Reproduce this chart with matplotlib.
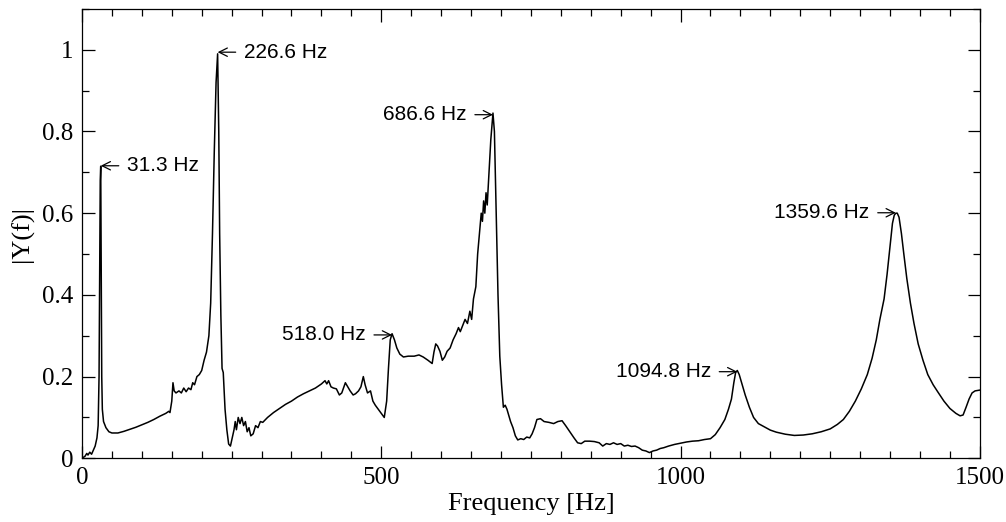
import matplotlib
matplotlib.use('Agg')
import matplotlib.pyplot as plt
from matplotlib.ticker import MultipleLocator, FormatStrFormatter

# spectrum (frequency in Hz, normalised magnitude)
freq = [0, 5, 8, 10, 13, 16, 19, 22, 25, 27, 28.5, 29.5, 30.5, 31.3, 32.0, 33, 34, 36, 40, 45,
        50, 60, 70, 80, 90, 100, 110, 120, 130, 140, 145, 147, 150, 152, 154, 157, 162, 166, 170, 174,
        178, 182, 185, 188, 192, 196, 200, 204, 208, 212, 215, 218, 221, 224, 226.6, 228.5, 230, 232, 234, 236,
        237, 239, 242, 245, 248, 251, 254, 256, 258, 261, 264, 267, 270, 273, 276, 279, 282, 286, 290, 294,
        298, 302, 310, 320, 330, 340, 350, 360, 370, 380, 390, 400, 406, 409, 412, 416, 420, 425, 430, 434,
        440, 444, 448, 453, 457, 462, 466, 470, 473, 477, 482, 486, 490, 495, 500, 505, 509, 512, 515, 518,
        522, 526, 531, 537, 545, 555, 563, 570, 578, 585, 588, 591, 594, 598, 602, 606, 610, 615, 620, 625,
        629, 632, 636, 640, 644, 648, 651, 654, 658, 661, 664, 667, 669, 671, 673, 675, 677, 680, 683, 686.6,
        689, 692, 695, 698, 701, 704, 707, 710, 713, 716, 720, 724, 728, 733, 738, 743, 748, 752, 756, 760,
        766, 772, 780, 788, 795, 802, 808, 815, 822, 828, 834, 840, 848, 856, 864, 870, 876, 882, 888, 894,
        900, 906, 912, 918, 924, 930, 936, 942, 948, 954, 960, 966, 972, 980, 990, 1000, 1010, 1020, 1030, 1040,
        1050, 1058, 1066, 1074, 1080, 1085, 1089, 1092, 1094.8, 1098, 1102, 1108, 1115, 1122, 1130, 1140, 1150, 1160, 1175, 1190,
        1205, 1220, 1235, 1250, 1262, 1272, 1282, 1292, 1302, 1312, 1320, 1327, 1333, 1340, 1345, 1350, 1354, 1357, 1359.6, 1362,
        1365, 1369, 1373, 1378, 1384, 1390, 1397, 1405, 1413, 1422, 1430, 1440, 1450, 1460, 1467, 1472, 1477, 1482, 1487, 1492,
        1500]
amp = [0.0, 0.005, 0.012, 0.008, 0.015, 0.01, 0.02, 0.03, 0.05, 0.08, 0.2, 0.45, 0.68, 0.715, 0.5, 0.2, 0.12, 0.09, 0.075, 0.065,
       0.062, 0.062, 0.066, 0.071, 0.076, 0.082, 0.088, 0.095, 0.103, 0.11, 0.115, 0.112, 0.14, 0.185, 0.165, 0.16, 0.165, 0.16, 0.172, 0.163,
       0.172, 0.168, 0.185, 0.18, 0.2, 0.205, 0.215, 0.24, 0.26, 0.3, 0.38, 0.55, 0.75, 0.92, 0.99, 0.8, 0.55, 0.35, 0.22, 0.21,
       0.18, 0.12, 0.07, 0.035, 0.03, 0.05, 0.07, 0.09, 0.07, 0.1, 0.085, 0.1, 0.08, 0.09, 0.065, 0.075, 0.055, 0.06, 0.08, 0.075,
       0.09, 0.088, 0.1, 0.112, 0.122, 0.132, 0.14, 0.15, 0.158, 0.165, 0.172, 0.182, 0.19, 0.182, 0.19, 0.175, 0.172, 0.17, 0.155, 0.16,
       0.185, 0.175, 0.165, 0.155, 0.158, 0.165, 0.175, 0.2, 0.18, 0.16, 0.165, 0.14, 0.13, 0.12, 0.11, 0.1, 0.14, 0.22, 0.29, 0.305,
       0.29, 0.27, 0.255, 0.248, 0.25, 0.25, 0.253, 0.248, 0.24, 0.232, 0.26, 0.28, 0.275, 0.262, 0.24, 0.248, 0.262, 0.27, 0.29, 0.305,
       0.32, 0.31, 0.325, 0.34, 0.33, 0.36, 0.34, 0.39, 0.42, 0.5, 0.55, 0.6, 0.58, 0.63, 0.6, 0.65, 0.62, 0.7, 0.78, 0.845,
       0.8, 0.6, 0.4, 0.25, 0.18, 0.125, 0.13, 0.12, 0.105, 0.09, 0.075, 0.055, 0.045, 0.048, 0.046, 0.052, 0.05, 0.06, 0.075, 0.095,
       0.097, 0.09, 0.088, 0.085, 0.09, 0.092, 0.08, 0.065, 0.05, 0.038, 0.036, 0.042, 0.042, 0.041, 0.038, 0.03, 0.036, 0.034, 0.038, 0.034,
       0.036, 0.03, 0.032, 0.029, 0.03, 0.026, 0.02, 0.018, 0.014, 0.018, 0.02, 0.024, 0.026, 0.03, 0.034, 0.037, 0.04, 0.042, 0.043, 0.046,
       0.048, 0.058, 0.075, 0.095, 0.12, 0.145, 0.185, 0.21, 0.215, 0.205, 0.185, 0.155, 0.125, 0.1, 0.085, 0.077, 0.069, 0.064, 0.059, 0.056,
       0.057, 0.06, 0.065, 0.072, 0.083, 0.095, 0.115, 0.14, 0.17, 0.205, 0.245, 0.29, 0.34, 0.39, 0.45, 0.52, 0.575, 0.595, 0.6, 0.6,
       0.59, 0.55, 0.5, 0.44, 0.38, 0.33, 0.28, 0.24, 0.205, 0.18, 0.162, 0.14, 0.122, 0.11, 0.104, 0.106, 0.125, 0.145, 0.16, 0.165,
       0.167]

# labelled peaks: (frequency, magnitude at arrow tip, label, side of the text)
peak_freq = [31.3, 226.6, 518.0, 686.6, 1094.8, 1359.6]
peak_amp = [0.716, 0.994, 0.302, 0.841, 0.212, 0.601]
peak_text = ['31.3 Hz', '226.6 Hz', '518.0 Hz', '686.6 Hz', '1094.8 Hz', '1359.6 Hz']
peak_side = ['right', 'right', 'left', 'left', 'left', 'left']

serif = 'Liberation Serif'
sans = 'Liberation Sans'

fig = plt.figure(figsize=(10.06, 5.22), dpi=100)
ax = fig.add_axes([0.0815, 0.122, 0.8925, 0.861])

ax.plot(freq, amp, color='black', lw=1.1)

for f, a, t, side in zip(peak_freq, peak_amp, peak_text, peak_side):
    dx = 19 if side == 'right' else -19
    ax.annotate(t, xy=(f, a), xytext=(dx, 0), textcoords='offset points',
                ha='left' if side == 'right' else 'right', va='center',
                fontsize=15, family=sans,
                arrowprops=dict(arrowstyle='->', color='black', lw=0.9,
                                shrinkA=4, shrinkB=0))

ax.set_xlim(0, 1500)
ax.set_ylim(0, 1.1)
ax.xaxis.set_major_locator(MultipleLocator(500))
ax.xaxis.set_minor_locator(MultipleLocator(50))
ax.yaxis.set_major_locator(MultipleLocator(0.2))
ax.yaxis.set_minor_locator(MultipleLocator(0.1))
ax.yaxis.set_major_formatter(FormatStrFormatter('%g'))
ax.tick_params(which='both', direction='in', top=True, right=True, width=0.9)
ax.tick_params(which='major', length=9, labelsize=18, pad=6)
ax.tick_params(which='minor', length=5)
for lab in ax.get_xticklabels() + ax.get_yticklabels():
    lab.set_family(serif)
for s in ax.spines.values():
    s.set_linewidth(0.9)

ax.set_xlabel('Frequency [Hz]', fontsize=19, family=serif, labelpad=3)
ax.set_ylabel('|Y(f)|', fontsize=19, family=serif, labelpad=6)

fig.savefig('out.png', dpi=100)
